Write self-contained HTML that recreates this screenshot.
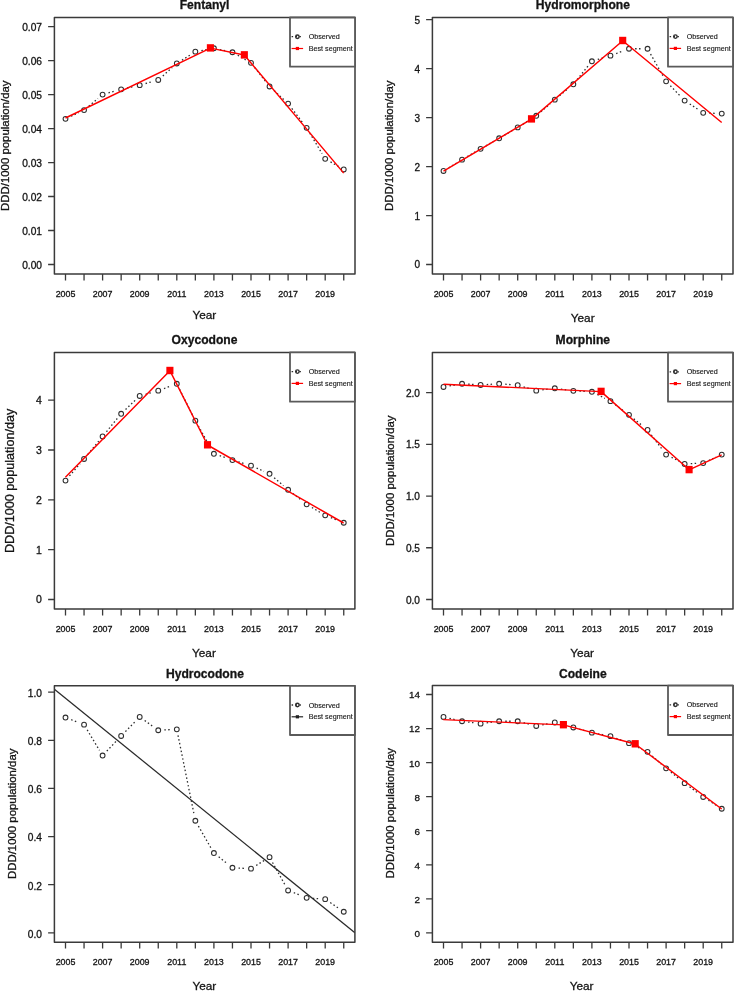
<!DOCTYPE html>
<html><head><meta charset="utf-8"><style>
html,body{margin:0;padding:0;background:#fff;}
svg{display:block;filter:blur(0.4px);}
text{font-family:"Liberation Sans", sans-serif;fill:#141414;stroke:#141414;stroke-width:0.3px;}
</style></head><body>
<svg width="734" height="991" viewBox="0 0 734 991">
<rect width="734" height="991" fill="#fff"/>
<g><clipPath id="c0"><rect x="54.4" y="17.5" width="300.6" height="256.6"/></clipPath><path d="M71.01 116.24L78.54 112.66M88.73 106.14L97.92 98.46M108.47 92.9L115.28 91M127.1 88L133.75 86.5M145.57 83.5L152.38 81.6M162.81 75.9L172.24 67.5M181.95 60.18L190.2 54.92M201.35 50.55L207.9 49.35M219.86 49.54L226.49 50.96M237.75 55.28L245.7 59.82M254.77 67.65L265.78 81.65M274.04 90.58L283.61 99.42M291.8 108.4L302.95 123M309.78 133.08L322.07 153.62M330.5 161.88L338.45 166.42" fill="none" stroke="#2e2e2e" stroke-width="1.3" stroke-dasharray="1.5 2.4" stroke-linecap="butt"/><circle cx="65.5" cy="118.85" r="2.4" fill="none" stroke="#2e2e2e" stroke-width="1.05"/><circle cx="84.05" cy="110.05" r="2.4" fill="none" stroke="#2e2e2e" stroke-width="1.05"/><circle cx="102.6" cy="94.55" r="2.4" fill="none" stroke="#2e2e2e" stroke-width="1.05"/><circle cx="121.15" cy="89.35" r="2.4" fill="none" stroke="#2e2e2e" stroke-width="1.05"/><circle cx="139.7" cy="85.15" r="2.4" fill="none" stroke="#2e2e2e" stroke-width="1.05"/><circle cx="158.25" cy="79.95" r="2.4" fill="none" stroke="#2e2e2e" stroke-width="1.05"/><circle cx="176.8" cy="63.45" r="2.4" fill="none" stroke="#2e2e2e" stroke-width="1.05"/><circle cx="195.35" cy="51.65" r="2.4" fill="none" stroke="#2e2e2e" stroke-width="1.05"/><circle cx="213.9" cy="48.25" r="2.4" fill="none" stroke="#2e2e2e" stroke-width="1.05"/><circle cx="232.45" cy="52.25" r="2.4" fill="none" stroke="#2e2e2e" stroke-width="1.05"/><circle cx="251" cy="62.85" r="2.4" fill="none" stroke="#2e2e2e" stroke-width="1.05"/><circle cx="269.55" cy="86.45" r="2.4" fill="none" stroke="#2e2e2e" stroke-width="1.05"/><circle cx="288.1" cy="103.55" r="2.4" fill="none" stroke="#2e2e2e" stroke-width="1.05"/><circle cx="306.65" cy="127.85" r="2.4" fill="none" stroke="#2e2e2e" stroke-width="1.05"/><circle cx="325.2" cy="158.85" r="2.4" fill="none" stroke="#2e2e2e" stroke-width="1.05"/><circle cx="343.75" cy="169.45" r="2.4" fill="none" stroke="#2e2e2e" stroke-width="1.05"/><polyline clip-path="url(#c0)" points="65.5,118 210.4,48.1 244.35,55.05 343.7,173.1" fill="none" stroke="#ff0000" stroke-width="1.45" stroke-linejoin="round"/><rect x="206.85" y="44.2" width="7.1" height="7.4" fill="#ff0000"/><rect x="240.8" y="51.15" width="7.1" height="7.4" fill="#ff0000"/><rect x="54.4" y="17.5" width="300.6" height="256.6" fill="none" stroke="#3a3a3a" stroke-width="1.5" stroke-linejoin="round"/><path d="M65.5 274.1v6.4M84.05 274.1v6.4M102.6 274.1v6.4M121.15 274.1v6.4M139.7 274.1v6.4M158.25 274.1v6.4M176.8 274.1v6.4M195.35 274.1v6.4M213.9 274.1v6.4M232.45 274.1v6.4M251 274.1v6.4M269.55 274.1v6.4M288.1 274.1v6.4M306.65 274.1v6.4M325.2 274.1v6.4M343.75 274.1v6.4M54.4 264.5h-6.3M54.4 230.51h-6.3M54.4 196.52h-6.3M54.4 162.53h-6.3M54.4 128.54h-6.3M54.4 94.55h-6.3M54.4 60.56h-6.3M54.4 26.57h-6.3" stroke="#3a3a3a" stroke-width="1.3" fill="none"/><text x="65.5" y="297.3" font-size="8.9" text-anchor="middle">2005</text><text x="102.6" y="297.3" font-size="8.9" text-anchor="middle">2007</text><text x="139.7" y="297.3" font-size="8.9" text-anchor="middle">2009</text><text x="176.8" y="297.3" font-size="8.9" text-anchor="middle">2011</text><text x="213.9" y="297.3" font-size="8.9" text-anchor="middle">2013</text><text x="251" y="297.3" font-size="8.9" text-anchor="middle">2015</text><text x="288.1" y="297.3" font-size="8.9" text-anchor="middle">2017</text><text x="325.2" y="297.3" font-size="8.9" text-anchor="middle">2019</text><text x="42" y="268.55" font-size="10.2" text-anchor="end">0.00</text><text x="42" y="234.56" font-size="10.2" text-anchor="end">0.01</text><text x="42" y="200.57" font-size="10.2" text-anchor="end">0.02</text><text x="42" y="166.58" font-size="10.2" text-anchor="end">0.03</text><text x="42" y="132.59" font-size="10.2" text-anchor="end">0.04</text><text x="42" y="98.6" font-size="10.2" text-anchor="end">0.05</text><text x="42" y="64.61" font-size="10.2" text-anchor="end">0.06</text><text x="42" y="30.62" font-size="10.2" text-anchor="end">0.07</text><text transform="translate(9.32 145.7) rotate(-90)" font-size="11.4" text-anchor="middle">DDD/1000 population/day</text><text x="204.5" y="9.3" font-size="12.1" font-weight="bold" text-anchor="middle">Fentanyl</text><text x="204.3" y="318.9" font-size="11.8" text-anchor="middle">Year</text><rect x="290" y="17.5" width="65" height="49.2" fill="#fff" stroke="#5a5a5a" stroke-width="1.8" stroke-linejoin="round"/><path d="M291.6 36.7h11.5" stroke="#2e2e2e" stroke-width="1.3" stroke-dasharray="1.5 2.4"/><circle cx="297.4" cy="36.7" r="1.75" fill="none" stroke="#2e2e2e" stroke-width="1.4"/><path d="M291.6 48.5h11.5" stroke="#ff0000" stroke-width="1.2"/><rect x="295.8" y="46.9" width="3.2" height="3.2" fill="#ff0000"/><text x="308.7" y="39.3" font-size="7.2" style="stroke-width:0.12px">Observed</text><text x="308.7" y="51.1" font-size="7.2" style="stroke-width:0.12px">Best segment</text></g>
<g><clipPath id="c1"><rect x="432.4" y="17.4" width="300.6" height="256.7"/></clipPath><path d="M448.71 167.78L456.84 162.82M467.32 156.58L475.33 151.92M485.9 145.82L493.85 141.28M504.42 135.18L512.43 130.52M522.86 124.2L531.09 119M540.86 111.75L550.19 103.65M559.49 95.75L568.66 88.15M577.18 79.5L588.07 66M597.74 59.49L604.61 57.41M616.17 53.52L623.28 50.88M635.1 48.75L641.45 48.75M650.57 54.05L663.08 76.05M670.34 85.74L680.41 96.16M689.73 103.92L698.12 109.48M709.3 113.08L715.65 113.32" fill="none" stroke="#2e2e2e" stroke-width="1.3" stroke-dasharray="1.5 2.4" stroke-linecap="butt"/><circle cx="443.5" cy="170.95" r="2.4" fill="none" stroke="#2e2e2e" stroke-width="1.05"/><circle cx="462.05" cy="159.65" r="2.4" fill="none" stroke="#2e2e2e" stroke-width="1.05"/><circle cx="480.6" cy="148.85" r="2.4" fill="none" stroke="#2e2e2e" stroke-width="1.05"/><circle cx="499.15" cy="138.25" r="2.4" fill="none" stroke="#2e2e2e" stroke-width="1.05"/><circle cx="517.7" cy="127.45" r="2.4" fill="none" stroke="#2e2e2e" stroke-width="1.05"/><circle cx="536.25" cy="115.75" r="2.4" fill="none" stroke="#2e2e2e" stroke-width="1.05"/><circle cx="554.8" cy="99.65" r="2.4" fill="none" stroke="#2e2e2e" stroke-width="1.05"/><circle cx="573.35" cy="84.25" r="2.4" fill="none" stroke="#2e2e2e" stroke-width="1.05"/><circle cx="591.9" cy="61.25" r="2.4" fill="none" stroke="#2e2e2e" stroke-width="1.05"/><circle cx="610.45" cy="55.65" r="2.4" fill="none" stroke="#2e2e2e" stroke-width="1.05"/><circle cx="629" cy="48.75" r="2.4" fill="none" stroke="#2e2e2e" stroke-width="1.05"/><circle cx="647.55" cy="48.75" r="2.4" fill="none" stroke="#2e2e2e" stroke-width="1.05"/><circle cx="666.1" cy="81.35" r="2.4" fill="none" stroke="#2e2e2e" stroke-width="1.05"/><circle cx="684.65" cy="100.55" r="2.4" fill="none" stroke="#2e2e2e" stroke-width="1.05"/><circle cx="703.2" cy="112.85" r="2.4" fill="none" stroke="#2e2e2e" stroke-width="1.05"/><circle cx="721.75" cy="113.55" r="2.4" fill="none" stroke="#2e2e2e" stroke-width="1.05"/><polyline clip-path="url(#c1)" points="443.5,171.2 531.5,119.1 622.7,40.7 721.7,122.5" fill="none" stroke="#ff0000" stroke-width="1.45" stroke-linejoin="round"/><rect x="527.95" y="115.2" width="7.1" height="7.4" fill="#ff0000"/><rect x="619.15" y="36.8" width="7.1" height="7.4" fill="#ff0000"/><rect x="432.4" y="17.4" width="300.6" height="256.7" fill="none" stroke="#3a3a3a" stroke-width="1.5" stroke-linejoin="round"/><path d="M443.5 274.1v6.4M462.05 274.1v6.4M480.6 274.1v6.4M499.15 274.1v6.4M517.7 274.1v6.4M536.25 274.1v6.4M554.8 274.1v6.4M573.35 274.1v6.4M591.9 274.1v6.4M610.45 274.1v6.4M629 274.1v6.4M647.55 274.1v6.4M666.1 274.1v6.4M684.65 274.1v6.4M703.2 274.1v6.4M721.75 274.1v6.4M432.4 264.5h-6.3M432.4 215.54h-6.3M432.4 166.58h-6.3M432.4 117.62h-6.3M432.4 68.66h-6.3M432.4 19.7h-6.3" stroke="#3a3a3a" stroke-width="1.3" fill="none"/><text x="443.5" y="297.3" font-size="8.9" text-anchor="middle">2005</text><text x="480.6" y="297.3" font-size="8.9" text-anchor="middle">2007</text><text x="517.7" y="297.3" font-size="8.9" text-anchor="middle">2009</text><text x="554.8" y="297.3" font-size="8.9" text-anchor="middle">2011</text><text x="591.9" y="297.3" font-size="8.9" text-anchor="middle">2013</text><text x="629" y="297.3" font-size="8.9" text-anchor="middle">2015</text><text x="666.1" y="297.3" font-size="8.9" text-anchor="middle">2017</text><text x="703.2" y="297.3" font-size="8.9" text-anchor="middle">2019</text><text x="420" y="268.48" font-size="10.0" text-anchor="end">0</text><text x="420" y="219.52" font-size="10.0" text-anchor="end">1</text><text x="420" y="170.56" font-size="10.0" text-anchor="end">2</text><text x="420" y="121.6" font-size="10.0" text-anchor="end">3</text><text x="420" y="72.64" font-size="10.0" text-anchor="end">4</text><text x="420" y="23.68" font-size="10.0" text-anchor="end">5</text><text transform="translate(393.42 145.7) rotate(-90)" font-size="11.4" text-anchor="middle">DDD/1000 population/day</text><text x="582.9" y="9" font-size="12.1" font-weight="bold" text-anchor="middle">Hydromorphone</text><text x="582.7" y="321.6" font-size="11.8" text-anchor="middle">Year</text><rect x="668" y="17.4" width="65" height="49.3" fill="#fff" stroke="#5a5a5a" stroke-width="1.8" stroke-linejoin="round"/><path d="M669.6 36.6h11.5" stroke="#2e2e2e" stroke-width="1.3" stroke-dasharray="1.5 2.4"/><circle cx="675.4" cy="36.6" r="1.75" fill="none" stroke="#2e2e2e" stroke-width="1.4"/><path d="M669.6 48.4h11.5" stroke="#ff0000" stroke-width="1.2"/><rect x="673.8" y="46.8" width="3.2" height="3.2" fill="#ff0000"/><text x="686.7" y="39.2" font-size="7.2" style="stroke-width:0.12px">Observed</text><text x="686.7" y="51" font-size="7.2" style="stroke-width:0.12px">Best segment</text></g>
<g><clipPath id="c2"><rect x="54.4" y="352.4" width="300.5" height="256.6"/></clipPath><path d="M69.47 475.92L80.08 463.58M87.93 454.24L98.72 441.16M106.46 431.73L117.29 418.47M125.55 409.53L135.3 400.17M145.57 394.27L152.38 392.33M163.97 388.52L171.08 385.88M179.54 389.2L192.61 415.2M198.33 425.97L210.92 448.43M219.68 455.71L226.67 458.09M238.29 461.81L245.16 463.89M256.59 468.09L263.96 471.31M274.17 477.73L283.48 485.77M292.89 493.52L301.86 500.58M311.9 507.46L319.95 512.24M330.87 517.61L338.08 520.49" fill="none" stroke="#2e2e2e" stroke-width="1.3" stroke-dasharray="1.5 2.4" stroke-linecap="butt"/><circle cx="65.5" cy="480.55" r="2.4" fill="none" stroke="#2e2e2e" stroke-width="1.05"/><circle cx="84.05" cy="458.95" r="2.4" fill="none" stroke="#2e2e2e" stroke-width="1.05"/><circle cx="102.6" cy="436.45" r="2.4" fill="none" stroke="#2e2e2e" stroke-width="1.05"/><circle cx="121.15" cy="413.75" r="2.4" fill="none" stroke="#2e2e2e" stroke-width="1.05"/><circle cx="139.7" cy="395.95" r="2.4" fill="none" stroke="#2e2e2e" stroke-width="1.05"/><circle cx="158.25" cy="390.65" r="2.4" fill="none" stroke="#2e2e2e" stroke-width="1.05"/><circle cx="176.8" cy="383.75" r="2.4" fill="none" stroke="#2e2e2e" stroke-width="1.05"/><circle cx="195.35" cy="420.65" r="2.4" fill="none" stroke="#2e2e2e" stroke-width="1.05"/><circle cx="213.9" cy="453.75" r="2.4" fill="none" stroke="#2e2e2e" stroke-width="1.05"/><circle cx="232.45" cy="460.05" r="2.4" fill="none" stroke="#2e2e2e" stroke-width="1.05"/><circle cx="251" cy="465.65" r="2.4" fill="none" stroke="#2e2e2e" stroke-width="1.05"/><circle cx="269.55" cy="473.75" r="2.4" fill="none" stroke="#2e2e2e" stroke-width="1.05"/><circle cx="288.1" cy="489.75" r="2.4" fill="none" stroke="#2e2e2e" stroke-width="1.05"/><circle cx="306.65" cy="504.35" r="2.4" fill="none" stroke="#2e2e2e" stroke-width="1.05"/><circle cx="325.2" cy="515.35" r="2.4" fill="none" stroke="#2e2e2e" stroke-width="1.05"/><circle cx="343.75" cy="522.75" r="2.4" fill="none" stroke="#2e2e2e" stroke-width="1.05"/><polyline clip-path="url(#c2)" points="65.4,477.2 169.9,370.7 207.5,445 343.6,523" fill="none" stroke="#ff0000" stroke-width="1.45" stroke-linejoin="round"/><rect x="166.35" y="366.8" width="7.1" height="7.4" fill="#ff0000"/><rect x="203.95" y="441.1" width="7.1" height="7.4" fill="#ff0000"/><rect x="54.4" y="352.4" width="300.5" height="256.6" fill="none" stroke="#3a3a3a" stroke-width="1.5" stroke-linejoin="round"/><path d="M65.5 609v6.4M84.05 609v6.4M102.6 609v6.4M121.15 609v6.4M139.7 609v6.4M158.25 609v6.4M176.8 609v6.4M195.35 609v6.4M213.9 609v6.4M232.45 609v6.4M251 609v6.4M269.55 609v6.4M288.1 609v6.4M306.65 609v6.4M325.2 609v6.4M343.75 609v6.4M54.4 599.5h-6.3M54.4 549.67h-6.3M54.4 499.84h-6.3M54.4 450.01h-6.3M54.4 400.18h-6.3" stroke="#3a3a3a" stroke-width="1.3" fill="none"/><text x="65.5" y="632.2" font-size="8.9" text-anchor="middle">2005</text><text x="102.6" y="632.2" font-size="8.9" text-anchor="middle">2007</text><text x="139.7" y="632.2" font-size="8.9" text-anchor="middle">2009</text><text x="176.8" y="632.2" font-size="8.9" text-anchor="middle">2011</text><text x="213.9" y="632.2" font-size="8.9" text-anchor="middle">2013</text><text x="251" y="632.2" font-size="8.9" text-anchor="middle">2015</text><text x="288.1" y="632.2" font-size="8.9" text-anchor="middle">2017</text><text x="325.2" y="632.2" font-size="8.9" text-anchor="middle">2019</text><text x="41.8" y="603.46" font-size="10.5" text-anchor="end">0</text><text x="41.8" y="553.63" font-size="10.5" text-anchor="end">1</text><text x="41.8" y="503.8" font-size="10.5" text-anchor="end">2</text><text x="41.8" y="453.97" font-size="10.5" text-anchor="end">3</text><text x="41.8" y="404.14" font-size="10.5" text-anchor="end">4</text><text transform="translate(14.4 480.9) rotate(-90)" font-size="12.6" text-anchor="middle">DDD/1000 population/day</text><text x="204.5" y="344.2" font-size="12.1" font-weight="bold" text-anchor="middle">Oxycodone</text><text x="203.9" y="656.7" font-size="11.8" text-anchor="middle">Year</text><rect x="290" y="352.4" width="64.9" height="49.3" fill="#fff" stroke="#5a5a5a" stroke-width="1.8" stroke-linejoin="round"/><path d="M291.6 371.6h11.5" stroke="#2e2e2e" stroke-width="1.3" stroke-dasharray="1.5 2.4"/><circle cx="297.4" cy="371.6" r="1.75" fill="none" stroke="#2e2e2e" stroke-width="1.4"/><path d="M291.6 383.4h11.5" stroke="#ff0000" stroke-width="1.2"/><rect x="295.8" y="381.8" width="3.2" height="3.2" fill="#ff0000"/><text x="308.7" y="374.2" font-size="7.2" style="stroke-width:0.12px">Observed</text><text x="308.7" y="386" font-size="7.2" style="stroke-width:0.12px">Best segment</text></g>
<g><clipPath id="c3"><rect x="432.4" y="352.6" width="300.6" height="256.4"/></clipPath><path d="M449.51 385.91L456.04 384.79M468.14 384.14L474.51 384.56M486.69 384.56L493.06 384.14M505.23 384.21L511.62 384.69M523.55 386.88L530.4 388.92M542.3 389.87L548.75 389.03M560.84 389.1L567.31 390M579.44 391.15L585.81 391.45M597.34 394.51L605.01 398.39M615.36 404.77L624.09 411.23M633.73 418.7L642.82 426.1M651.22 434.82L662.43 449.68M671.54 457.31L679.21 461.19M690.74 463.65L697.11 463.35M708.75 460.51L716.2 457.09" fill="none" stroke="#2e2e2e" stroke-width="1.3" stroke-dasharray="1.5 2.4" stroke-linecap="butt"/><circle cx="443.5" cy="386.95" r="2.4" fill="none" stroke="#2e2e2e" stroke-width="1.05"/><circle cx="462.05" cy="383.75" r="2.4" fill="none" stroke="#2e2e2e" stroke-width="1.05"/><circle cx="480.6" cy="384.95" r="2.4" fill="none" stroke="#2e2e2e" stroke-width="1.05"/><circle cx="499.15" cy="383.75" r="2.4" fill="none" stroke="#2e2e2e" stroke-width="1.05"/><circle cx="517.7" cy="385.15" r="2.4" fill="none" stroke="#2e2e2e" stroke-width="1.05"/><circle cx="536.25" cy="390.65" r="2.4" fill="none" stroke="#2e2e2e" stroke-width="1.05"/><circle cx="554.8" cy="388.25" r="2.4" fill="none" stroke="#2e2e2e" stroke-width="1.05"/><circle cx="573.35" cy="390.85" r="2.4" fill="none" stroke="#2e2e2e" stroke-width="1.05"/><circle cx="591.9" cy="391.75" r="2.4" fill="none" stroke="#2e2e2e" stroke-width="1.05"/><circle cx="610.45" cy="401.15" r="2.4" fill="none" stroke="#2e2e2e" stroke-width="1.05"/><circle cx="629" cy="414.85" r="2.4" fill="none" stroke="#2e2e2e" stroke-width="1.05"/><circle cx="647.55" cy="429.95" r="2.4" fill="none" stroke="#2e2e2e" stroke-width="1.05"/><circle cx="666.1" cy="454.55" r="2.4" fill="none" stroke="#2e2e2e" stroke-width="1.05"/><circle cx="684.65" cy="463.95" r="2.4" fill="none" stroke="#2e2e2e" stroke-width="1.05"/><circle cx="703.2" cy="463.05" r="2.4" fill="none" stroke="#2e2e2e" stroke-width="1.05"/><circle cx="721.75" cy="454.55" r="2.4" fill="none" stroke="#2e2e2e" stroke-width="1.05"/><polyline clip-path="url(#c3)" points="443.5,384.2 601.1,391.6 689.1,469.8 721.7,454.8" fill="none" stroke="#ff0000" stroke-width="1.45" stroke-linejoin="round"/><rect x="597.55" y="387.7" width="7.1" height="7.4" fill="#ff0000"/><rect x="685.55" y="465.9" width="7.1" height="7.4" fill="#ff0000"/><rect x="432.4" y="352.6" width="300.6" height="256.4" fill="none" stroke="#3a3a3a" stroke-width="1.5" stroke-linejoin="round"/><path d="M443.5 609v6.4M462.05 609v6.4M480.6 609v6.4M499.15 609v6.4M517.7 609v6.4M536.25 609v6.4M554.8 609v6.4M573.35 609v6.4M591.9 609v6.4M610.45 609v6.4M629 609v6.4M647.55 609v6.4M666.1 609v6.4M684.65 609v6.4M703.2 609v6.4M721.75 609v6.4M432.4 599.5h-6.3M432.4 547.77h-6.3M432.4 496.04h-6.3M432.4 444.31h-6.3M432.4 392.58h-6.3" stroke="#3a3a3a" stroke-width="1.3" fill="none"/><text x="443.5" y="632.2" font-size="8.9" text-anchor="middle">2005</text><text x="480.6" y="632.2" font-size="8.9" text-anchor="middle">2007</text><text x="517.7" y="632.2" font-size="8.9" text-anchor="middle">2009</text><text x="554.8" y="632.2" font-size="8.9" text-anchor="middle">2011</text><text x="591.9" y="632.2" font-size="8.9" text-anchor="middle">2013</text><text x="629" y="632.2" font-size="8.9" text-anchor="middle">2015</text><text x="666.1" y="632.2" font-size="8.9" text-anchor="middle">2017</text><text x="703.2" y="632.2" font-size="8.9" text-anchor="middle">2019</text><text x="420" y="603.52" font-size="10.1" text-anchor="end">0.0</text><text x="420" y="551.79" font-size="10.1" text-anchor="end">0.5</text><text x="420" y="500.06" font-size="10.1" text-anchor="end">1.0</text><text x="420" y="448.33" font-size="10.1" text-anchor="end">1.5</text><text x="420" y="396.6" font-size="10.1" text-anchor="end">2.0</text><text transform="translate(393.82 480.7) rotate(-90)" font-size="11.4" text-anchor="middle">DDD/1000 population/day</text><text x="582.8" y="344" font-size="12.1" font-weight="bold" text-anchor="middle">Morphine</text><text x="582.1" y="656.5" font-size="11.8" text-anchor="middle">Year</text><rect x="668" y="352.6" width="65" height="49.1" fill="#fff" stroke="#5a5a5a" stroke-width="1.8" stroke-linejoin="round"/><path d="M669.6 371.8h11.5" stroke="#2e2e2e" stroke-width="1.3" stroke-dasharray="1.5 2.4"/><circle cx="675.4" cy="371.8" r="1.75" fill="none" stroke="#2e2e2e" stroke-width="1.4"/><path d="M669.6 383.6h11.5" stroke="#ff0000" stroke-width="1.2"/><rect x="673.8" y="382" width="3.2" height="3.2" fill="#ff0000"/><text x="686.7" y="374.4" font-size="7.2" style="stroke-width:0.12px">Observed</text><text x="686.7" y="386.2" font-size="7.2" style="stroke-width:0.12px">Best segment</text></g>
<g><clipPath id="c4"><rect x="54.4" y="685.8" width="300.5" height="256.4"/></clipPath><path d="M71.2 719.73L78.35 722.47M87.19 729.88L99.46 750.32M106.79 751.12L116.96 740.38M125.41 731.59L135.44 721.31M144.66 720.5L153.29 726.7M164.34 729.95L170.71 729.65M178.01 735.33L194.14 814.77M198.39 826.04L210.86 847.76M218.68 856.84L227.67 863.96M238.54 868.05L244.91 868.35M256.18 865.44L264.37 860.36M272.52 862.48L285.13 885.12M293.77 892.71L300.98 895.59M312.74 898.28L319.11 898.72M330.25 902.58L338.7 908.32" fill="none" stroke="#2e2e2e" stroke-width="1.3" stroke-dasharray="1.5 2.4" stroke-linecap="butt"/><circle cx="65.5" cy="717.55" r="2.4" fill="none" stroke="#2e2e2e" stroke-width="1.05"/><circle cx="84.05" cy="724.65" r="2.4" fill="none" stroke="#2e2e2e" stroke-width="1.05"/><circle cx="102.6" cy="755.55" r="2.4" fill="none" stroke="#2e2e2e" stroke-width="1.05"/><circle cx="121.15" cy="735.95" r="2.4" fill="none" stroke="#2e2e2e" stroke-width="1.05"/><circle cx="139.7" cy="716.95" r="2.4" fill="none" stroke="#2e2e2e" stroke-width="1.05"/><circle cx="158.25" cy="730.25" r="2.4" fill="none" stroke="#2e2e2e" stroke-width="1.05"/><circle cx="176.8" cy="729.35" r="2.4" fill="none" stroke="#2e2e2e" stroke-width="1.05"/><circle cx="195.35" cy="820.75" r="2.4" fill="none" stroke="#2e2e2e" stroke-width="1.05"/><circle cx="213.9" cy="853.05" r="2.4" fill="none" stroke="#2e2e2e" stroke-width="1.05"/><circle cx="232.45" cy="867.75" r="2.4" fill="none" stroke="#2e2e2e" stroke-width="1.05"/><circle cx="251" cy="868.65" r="2.4" fill="none" stroke="#2e2e2e" stroke-width="1.05"/><circle cx="269.55" cy="857.15" r="2.4" fill="none" stroke="#2e2e2e" stroke-width="1.05"/><circle cx="288.1" cy="890.45" r="2.4" fill="none" stroke="#2e2e2e" stroke-width="1.05"/><circle cx="306.65" cy="897.85" r="2.4" fill="none" stroke="#2e2e2e" stroke-width="1.05"/><circle cx="325.2" cy="899.15" r="2.4" fill="none" stroke="#2e2e2e" stroke-width="1.05"/><circle cx="343.75" cy="911.75" r="2.4" fill="none" stroke="#2e2e2e" stroke-width="1.05"/><polyline clip-path="url(#c4)" points="54.4,689.2 354.9,932.8" fill="none" stroke="#2a2a2a" stroke-width="1.25" stroke-linejoin="round"/><rect x="54.4" y="685.8" width="300.5" height="256.4" fill="none" stroke="#3a3a3a" stroke-width="1.5" stroke-linejoin="round"/><path d="M65.5 942.2v6.4M84.05 942.2v6.4M102.6 942.2v6.4M121.15 942.2v6.4M139.7 942.2v6.4M158.25 942.2v6.4M176.8 942.2v6.4M195.35 942.2v6.4M213.9 942.2v6.4M232.45 942.2v6.4M251 942.2v6.4M269.55 942.2v6.4M288.1 942.2v6.4M306.65 942.2v6.4M325.2 942.2v6.4M343.75 942.2v6.4M54.4 932.85h-6.3M54.4 884.72h-6.3M54.4 836.59h-6.3M54.4 788.46h-6.3M54.4 740.33h-6.3M54.4 692.2h-6.3" stroke="#3a3a3a" stroke-width="1.3" fill="none"/><text x="65.5" y="965.4" font-size="8.9" text-anchor="middle">2005</text><text x="102.6" y="965.4" font-size="8.9" text-anchor="middle">2007</text><text x="139.7" y="965.4" font-size="8.9" text-anchor="middle">2009</text><text x="176.8" y="965.4" font-size="8.9" text-anchor="middle">2011</text><text x="213.9" y="965.4" font-size="8.9" text-anchor="middle">2013</text><text x="251" y="965.4" font-size="8.9" text-anchor="middle">2015</text><text x="288.1" y="965.4" font-size="8.9" text-anchor="middle">2017</text><text x="325.2" y="965.4" font-size="8.9" text-anchor="middle">2019</text><text x="42" y="937.7" font-size="10.2" text-anchor="end">0.0</text><text x="42" y="889.57" font-size="10.2" text-anchor="end">0.2</text><text x="42" y="841.44" font-size="10.2" text-anchor="end">0.4</text><text x="42" y="793.31" font-size="10.2" text-anchor="end">0.6</text><text x="42" y="745.18" font-size="10.2" text-anchor="end">0.8</text><text x="42" y="697.05" font-size="10.2" text-anchor="end">1.0</text><text transform="translate(15.62 813.8) rotate(-90)" font-size="11.4" text-anchor="middle">DDD/1000 population/day</text><text x="204.9" y="677.5" font-size="12.1" font-weight="bold" text-anchor="middle">Hydrocodone</text><text x="204.3" y="989.6" font-size="11.8" text-anchor="middle">Year</text><rect x="290" y="685.8" width="64.9" height="49.2" fill="#fff" stroke="#5a5a5a" stroke-width="1.8" stroke-linejoin="round"/><path d="M291.6 705h11.5" stroke="#2e2e2e" stroke-width="1.3" stroke-dasharray="1.5 2.4"/><circle cx="297.4" cy="705" r="1.75" fill="none" stroke="#2e2e2e" stroke-width="1.4"/><path d="M291.6 716.8h11.5" stroke="#222" stroke-width="1.2"/><rect x="295.8" y="715.2" width="3.2" height="3.2" fill="#222"/><text x="308.7" y="707.6" font-size="7.2" style="stroke-width:0.12px">Observed</text><text x="308.7" y="719.4" font-size="7.2" style="stroke-width:0.12px">Best segment</text></g>
<g><clipPath id="c5"><rect x="432.4" y="685.6" width="300.6" height="256.6"/></clipPath><path d="M449.44 718.33L456.11 719.87M468.1 722.03L474.55 722.87M486.65 722.87L493.1 722.03M505.25 721.25L511.6 721.25M523.61 722.75L530.34 724.45M542.24 724.82L548.81 723.58M560.69 724.04L567.46 725.86M579.22 729.1L586.03 731M597.89 733.78L604.46 735.02M616.16 738.3L623.29 741M634.52 745.74L642.03 749.26M652.11 755.9L661.54 764.3M670.87 772.15L679.88 779.35M689.54 786.79L698.31 793.31M708.35 800.22L716.6 805.48" fill="none" stroke="#2e2e2e" stroke-width="1.3" stroke-dasharray="1.5 2.4" stroke-linecap="butt"/><circle cx="443.5" cy="716.95" r="2.4" fill="none" stroke="#2e2e2e" stroke-width="1.05"/><circle cx="462.05" cy="721.25" r="2.4" fill="none" stroke="#2e2e2e" stroke-width="1.05"/><circle cx="480.6" cy="723.65" r="2.4" fill="none" stroke="#2e2e2e" stroke-width="1.05"/><circle cx="499.15" cy="721.25" r="2.4" fill="none" stroke="#2e2e2e" stroke-width="1.05"/><circle cx="517.7" cy="721.25" r="2.4" fill="none" stroke="#2e2e2e" stroke-width="1.05"/><circle cx="536.25" cy="725.95" r="2.4" fill="none" stroke="#2e2e2e" stroke-width="1.05"/><circle cx="554.8" cy="722.45" r="2.4" fill="none" stroke="#2e2e2e" stroke-width="1.05"/><circle cx="573.35" cy="727.45" r="2.4" fill="none" stroke="#2e2e2e" stroke-width="1.05"/><circle cx="591.9" cy="732.65" r="2.4" fill="none" stroke="#2e2e2e" stroke-width="1.05"/><circle cx="610.45" cy="736.15" r="2.4" fill="none" stroke="#2e2e2e" stroke-width="1.05"/><circle cx="629" cy="743.15" r="2.4" fill="none" stroke="#2e2e2e" stroke-width="1.05"/><circle cx="647.55" cy="751.85" r="2.4" fill="none" stroke="#2e2e2e" stroke-width="1.05"/><circle cx="666.1" cy="768.35" r="2.4" fill="none" stroke="#2e2e2e" stroke-width="1.05"/><circle cx="684.65" cy="783.15" r="2.4" fill="none" stroke="#2e2e2e" stroke-width="1.05"/><circle cx="703.2" cy="796.95" r="2.4" fill="none" stroke="#2e2e2e" stroke-width="1.05"/><circle cx="721.75" cy="808.75" r="2.4" fill="none" stroke="#2e2e2e" stroke-width="1.05"/><polyline clip-path="url(#c5)" points="443.2,719.6 563.4,724.9 635.2,744 721.7,809" fill="none" stroke="#ff0000" stroke-width="1.45" stroke-linejoin="round"/><rect x="559.85" y="721" width="7.1" height="7.4" fill="#ff0000"/><rect x="631.65" y="740.1" width="7.1" height="7.4" fill="#ff0000"/><rect x="432.4" y="685.6" width="300.6" height="256.6" fill="none" stroke="#3a3a3a" stroke-width="1.5" stroke-linejoin="round"/><path d="M443.5 942.2v6.4M462.05 942.2v6.4M480.6 942.2v6.4M499.15 942.2v6.4M517.7 942.2v6.4M536.25 942.2v6.4M554.8 942.2v6.4M573.35 942.2v6.4M591.9 942.2v6.4M610.45 942.2v6.4M629 942.2v6.4M647.55 942.2v6.4M666.1 942.2v6.4M684.65 942.2v6.4M703.2 942.2v6.4M721.75 942.2v6.4M432.4 932.9h-6.3M432.4 898.84h-6.3M432.4 864.78h-6.3M432.4 830.72h-6.3M432.4 796.66h-6.3M432.4 762.6h-6.3M432.4 728.54h-6.3M432.4 694.48h-6.3" stroke="#3a3a3a" stroke-width="1.3" fill="none"/><text x="443.5" y="965.4" font-size="8.9" text-anchor="middle">2005</text><text x="480.6" y="965.4" font-size="8.9" text-anchor="middle">2007</text><text x="517.7" y="965.4" font-size="8.9" text-anchor="middle">2009</text><text x="554.8" y="965.4" font-size="8.9" text-anchor="middle">2011</text><text x="591.9" y="965.4" font-size="8.9" text-anchor="middle">2013</text><text x="629" y="965.4" font-size="8.9" text-anchor="middle">2015</text><text x="666.1" y="965.4" font-size="8.9" text-anchor="middle">2017</text><text x="703.2" y="965.4" font-size="8.9" text-anchor="middle">2019</text><text x="420" y="936.83" font-size="9.85" text-anchor="end">0</text><text x="420" y="902.77" font-size="9.85" text-anchor="end">2</text><text x="420" y="868.71" font-size="9.85" text-anchor="end">4</text><text x="420" y="834.65" font-size="9.85" text-anchor="end">6</text><text x="420" y="800.59" font-size="9.85" text-anchor="end">8</text><text x="420" y="766.53" font-size="9.85" text-anchor="end">10</text><text x="420" y="732.47" font-size="9.85" text-anchor="end">12</text><text x="420" y="698.41" font-size="9.85" text-anchor="end">14</text><text transform="translate(393.82 813.3) rotate(-90)" font-size="11.4" text-anchor="middle">DDD/1000 population/day</text><text x="582.8" y="677.5" font-size="12.1" font-weight="bold" text-anchor="middle">Codeine</text><text x="581.6" y="989.5" font-size="11.8" text-anchor="middle">Year</text><rect x="668" y="685.6" width="65" height="49.4" fill="#fff" stroke="#5a5a5a" stroke-width="1.8" stroke-linejoin="round"/><path d="M669.6 704.8h11.5" stroke="#2e2e2e" stroke-width="1.3" stroke-dasharray="1.5 2.4"/><circle cx="675.4" cy="704.8" r="1.75" fill="none" stroke="#2e2e2e" stroke-width="1.4"/><path d="M669.6 716.6h11.5" stroke="#ff0000" stroke-width="1.2"/><rect x="673.8" y="715" width="3.2" height="3.2" fill="#ff0000"/><text x="686.7" y="707.4" font-size="7.2" style="stroke-width:0.12px">Observed</text><text x="686.7" y="719.2" font-size="7.2" style="stroke-width:0.12px">Best segment</text></g>
</svg>
</body></html>
